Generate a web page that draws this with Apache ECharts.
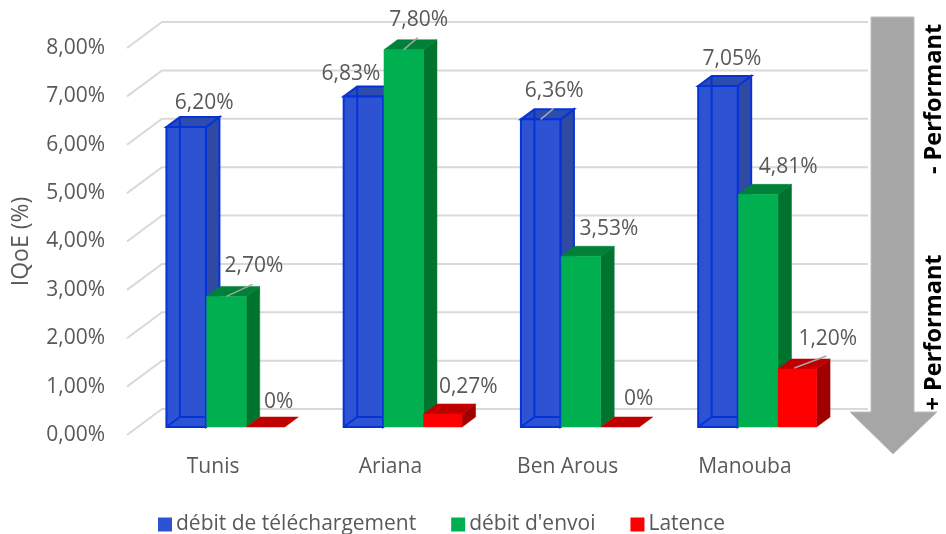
<!DOCTYPE html>
<html>
<head>
<meta charset="utf-8">
<style>html,body{margin:0;padding:0;background:#fff}#c{width:946px;height:534px}</style>
<script src="https://cdn.jsdelivr.net/npm/echarts@6/dist/echarts.min.js"></script>
</head>
<body>
<div id="c"></div>
<script>
// ---- data
var categories = ['Tunis', 'Ariana', 'Ben Arous', 'Manouba'];
var debitTelechargement = [6.20, 6.83, 6.36, 7.05];
var debitEnvoi = [2.70, 7.80, 3.53, 4.81];
var latence = [0, 0.27, 0, 1.20];
var yTicks = [0, 1, 2, 3, 4, 5, 6, 7, 8];
var seriesNames = ['débit de téléchargement', "débit d'envoi", 'Latence'];

// ---- label layout (pixels relative to the top-centre of the bar front)
var labelNudges = [
  [[18, -24], [-12.5, -23], [13.5, -28], [14, -27]],
  [[27.5, -30], [15, -29.5], [28, -27], [30, -27]],
  [[13, -25], [25.5, -27], [18.5, -28], [30.5, -30]]
];
var leaderEnds = [
  [null, null, [[0, 0], [13, -11]], null],
  [[[0, 0], [26, -12]], [[0, 0], [14, -12]], null, null],
  [null, null, null, [[-3, -1], [29, -13]]]
];

// ---- styles
var FONT = '"Open Sans", sans-serif';
var TXT = '#595959';
var wallDX = 35, wallDY = 26;
var barShiftX = 11, barShiftY = 8, barDX = 13.5, barDY = 10, barW = 40;
var seriesStyles = [
  {off: -60.2, w: 39.5, front: '#2d52d2', side: '#2f4aa3', top: '#2d4cb0', stroke: '#0533d8', frame: true},
  {off: -19.9, w: 39.5, front: '#00b050', side: '#00732f', top: '#008038'},
  {off: 19.7, w: 38.5, front: '#ff0000', side: '#a00000', top: '#c00000'}
];

function fmt(v) { return v === 0 ? '0%' : v.toFixed(2).replace('.', ',') + '%'; }

function barRenderer(si) {
  var st = seriesStyles[si];
  return function (params, api) {
    var c = api.value(0), v = api.value(1);
    var top = api.coord([c, v]), base = api.coord([c, 0]);
    var x0 = top[0] + st.off + barShiftX, x1 = x0 + st.w;
    var yT = top[1] - barShiftY, yB = base[1] - barShiftY;
    var ch = [];
    function poly(pts, fill, z) {
      ch.push({type: 'polygon', shape: {points: pts}, z2: z || 1,
        style: {fill: fill, stroke: st.stroke || fill, lineWidth: st.stroke ? 2 : 0.5}});
    }
    function line(a, b, col, w, z) {
      ch.push({type: 'line', z2: z, shape: {x1: a[0], y1: a[1], x2: b[0], y2: b[1]},
        style: {stroke: col, lineWidth: w}});
    }
    if (v > 0) {
      poly([[x1, yT], [x1 + barDX, yT - barDY], [x1 + barDX, yB - barDY], [x1, yB]], st.side);
      poly([[x0, yT], [x1, yT], [x1 + barDX, yT - barDY], [x0 + barDX, yT - barDY]], st.top);
      poly([[x0, yT], [x1, yT], [x1, yB], [x0, yB]], st.front);
      if (st.frame) {
        line([x0 + barDX, yT - barDY], [x0 + barDX, yB - barDY], st.stroke, 2, 2);
        line([x0 + barDX, yB - barDY], [x1, yB - barDY], st.stroke, 2, 2);
        line([x0, yB], [x0 + barDX, yB - barDY], st.stroke, 2, 2);
      }
    } else {
      poly([[x0, yB], [x1, yB], [x1 + barDX, yB - barDY], [x0 + barDX, yB - barDY]], st.top);
    }
    var ax = (x0 + x1) / 2, ay = yT;
    var nudge = labelNudges[si][c], lead = leaderEnds[si][c];
    if (lead) {
      line([ax + lead[0][0], ay + lead[0][1]], [ax + lead[1][0], ay + lead[1][1]], '#a6a6a6', 1.5, 90);
    }
    ch.push({type: 'text', z2: 100, x: ax + nudge[0], y: ay + nudge[1],
      style: {text: fmt(v), fill: TXT, font: '21px ' + FONT, align: 'center', verticalAlign: 'middle'}});
    return {type: 'group', children: ch};
  };
}

function wallRenderer(params, api) {
  var p = api.coord([0, api.value(0)]);
  var cs = params.coordSys;
  var left = cs.x, right = cs.x + cs.width + wallDX - 3, y = p[1];
  return {type: 'polyline', shape: {points: [[left, y], [left + wallDX, y - wallDY], [right, y - wallDY]]},
    style: {stroke: '#d9d9d9', lineWidth: 2, fill: null}};
}

var seriesValues = [debitTelechargement, debitEnvoi, latence];
var series = [{
  type: 'custom', name: 'grille', silent: true, clip: false, z: 1,
  renderItem: wallRenderer, coordinateSystem: 'cartesian2d',
  encode: {y: 0}, data: yTicks.map(function (t) { return [t]; })
}];
seriesValues.forEach(function (vals, si) {
  series.push({
    type: 'custom', name: seriesNames[si], clip: false, z: 2 + si,
    renderItem: barRenderer(si), coordinateSystem: 'cartesian2d',
    encode: {x: 0, y: 1},
    itemStyle: {color: seriesStyles[si].front},
    data: vals.map(function (v, i) { return [i, v]; })
  });
});

var chart = echarts.init(document.getElementById('c'), null, {renderer: 'canvas'});
chart.setOption({
  animation: false,
  backgroundColor: '#ffffff',
  grid: {left: 127, top: 48, width: 709, height: 387},
  xAxis: {
    type: 'category', data: categories,
    axisLine: {show: false}, axisTick: {show: false}, splitLine: {show: false},
    axisLabel: {color: TXT, fontFamily: FONT, fontSize: 21, margin: 22, padding: [0, 5, 0, 0]}
  },
  yAxis: {
    type: 'value', min: 0, max: 8, interval: 1,
    name: 'IQoE (%)', nameLocation: 'middle', nameGap: 94, nameRotate: 90,
    nameTextStyle: {color: TXT, fontFamily: FONT, fontSize: 23},
    axisLine: {show: false}, axisTick: {show: false}, splitLine: {show: false},
    axisLabel: {color: TXT, fontFamily: FONT, fontSize: 21, margin: 22, padding: [2, 0, 0, 0],
      formatter: function (v) { return v.toFixed(2).replace('.', ',') + '%'; }}
  },
  legend: {
    data: seriesNames, top: 509, left: 153, icon: 'rect', itemWidth: 14, itemHeight: 14, itemGap: 35, itemStyle: {borderWidth: 0},
    textStyle: {color: TXT, fontFamily: FONT, fontSize: 21, padding: [0, 0, 0, -1]}
  },
  series: series,
  graphic: [
    {type: 'polygon', z: 20,
     shape: {points: [[871, 17], [914, 17], [914, 412], [937, 412], [893, 454], [850, 412], [871, 412]]},
     style: {fill: '#a6a6a6', stroke: '#bdbdbd', lineWidth: 1}},
    {type: 'text', z: 21, x: 934, y: 99, rotation: Math.PI / 2,
     style: {text: '- Performant', fill: '#000', font: 'bold 23.5px ' + FONT, align: 'center', verticalAlign: 'middle'}},
    {type: 'text', z: 21, x: 934, y: 332.5, rotation: Math.PI / 2,
     style: {text: '+ Performant', fill: '#000', font: 'bold 23.5px ' + FONT, align: 'center', verticalAlign: 'middle'}}
  ]
});
</script>
</body>
</html>
